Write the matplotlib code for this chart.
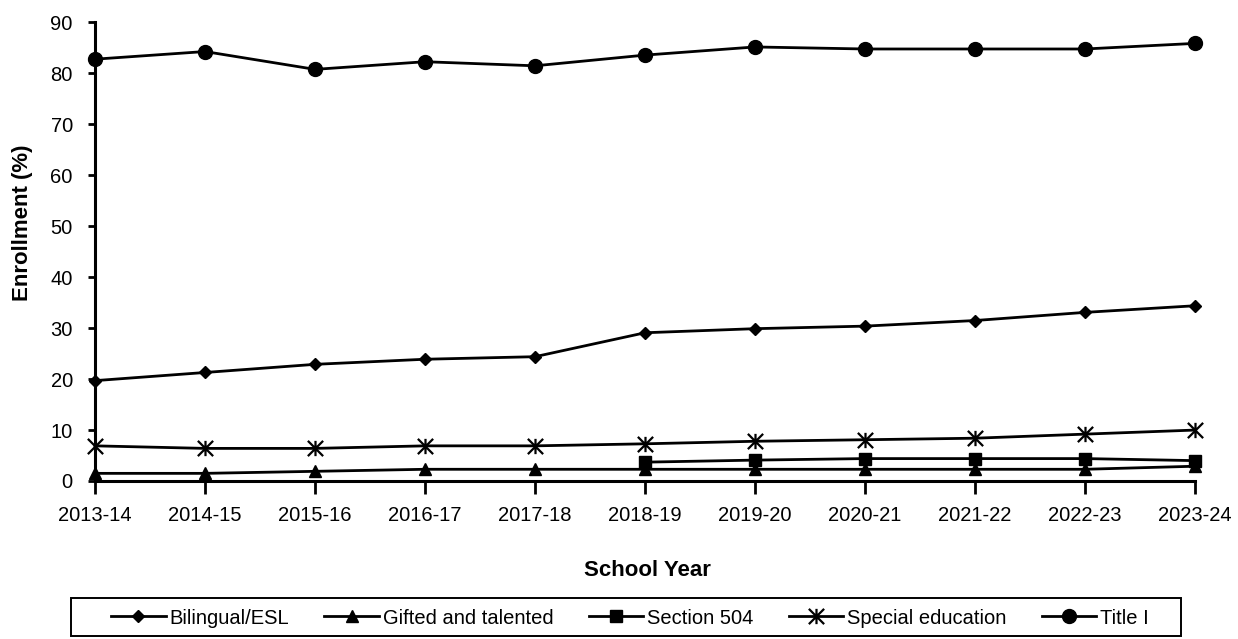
import numpy as np
import matplotlib
matplotlib.use("Agg")
import matplotlib.pyplot as plt
from matplotlib.path import Path
from matplotlib.patches import Rectangle

years = ["2013-14", "2014-15", "2015-16", "2016-17", "2017-18", "2018-19",
         "2019-20", "2020-21", "2021-22", "2022-23", "2023-24"]
bilingual_esl = [19.7, 21.3, 22.9, 23.9, 24.4, 29.1, 29.9, 30.4, 31.5, 33.1, 34.4]
gifted_talented = [1.5, 1.5, 1.9, 2.3, 2.3, 2.3, 2.3, 2.3, 2.3, 2.3, 2.9]
section_504 = [np.nan, np.nan, np.nan, np.nan, np.nan, 3.7, 4.1, 4.4, 4.4, 4.4, 4.0]
special_education = [6.9, 6.4, 6.4, 6.9, 6.9, 7.3, 7.8, 8.1, 8.4, 9.2, 10.0]
title_i = [82.8, 84.3, 80.8, 82.3, 81.5, 83.6, 85.2, 84.8, 84.8, 84.8, 85.9]
y_ticks = [0, 10, 20, 30, 40, 50, 60, 70, 80, 90]

face = ["Liberation Sans", "DejaVu Sans"]

# star marker: an X crossed by a vertical stroke
star = Path([(-1, -1), (1, 1), (-1, 1), (1, -1), (0, -1), (0, 1)],
            [Path.MOVETO, Path.LINETO, Path.MOVETO, Path.LINETO,
             Path.MOVETO, Path.LINETO])

W, H = 1238, 639
fig = plt.figure(figsize=(W / 100, H / 100), dpi=100)
ax = fig.add_axes([95 / W, 1 - 481 / H, 1100 / W, (481 - 22.5) / H])

x = np.arange(len(years))
style = dict(color="black", lw=2.0, clip_on=False, zorder=3)
ax.plot(x, bilingual_esl, marker="D", ms=6.5, label="Bilingual/ESL", **style)
ax.plot(x, gifted_talented, marker="^", ms=8.5, label="Gifted and talented", **style)
ax.plot(x, section_504, marker="s", ms=9, label="Section 504", **style)
ax.plot(x, special_education, marker=star, ms=11, mew=1.6, mfc="none",
        label="Special education", **style)
ax.plot(x, title_i, marker="o", ms=10, label="Title I", **style)

ax.set_xlim(0, len(years) - 1)
ax.set_ylim(0, 90)
ax.set_xticks(x)
ax.set_xticklabels(years)
ax.set_yticks(y_ticks)

for side in ("top", "right"):
    ax.spines[side].set_visible(False)
for side in ("left", "bottom"):
    ax.spines[side].set_linewidth(2.2)

ax.tick_params(axis="y", direction="out", length=5, width=2, pad=11)
ax.tick_params(axis="x", direction="out", length=9, width=2, pad=9)
for lab in ax.get_xticklabels() + ax.get_yticklabels():
    lab.set_fontfamily(face)
    lab.set_fontsize(14.5)

ax.set_ylabel("Enrollment (%)", fontsize=16, fontweight="bold", family=face)
ax.yaxis.set_label_coords(-0.066, 0.564)
ax.yaxis.label.set_va("center")
ax.set_xlabel("School Year", fontsize=16, fontweight="bold", family=face)
ax.xaxis.set_label_coords(0.502, -0.196)
ax.xaxis.label.set_va("center")

handles, labels = ax.get_legend_handles_labels()
leg = fig.legend(handles, labels, loc="center", ncol=5, frameon=False,
                 bbox_to_anchor=(630 / W, 1 - 618 / H), borderpad=0,
                 handlelength=2.7, handletextpad=0.2, columnspacing=1.75,
                 prop={"family": face, "size": 14.5})
fig.add_artist(Rectangle((71 / W, 1 - 636 / H), 1110 / W, 38 / H,
                         transform=fig.transFigure, fill=False,
                         lw=1.4, ec="black"))

fig.savefig("out.png", dpi=100)
